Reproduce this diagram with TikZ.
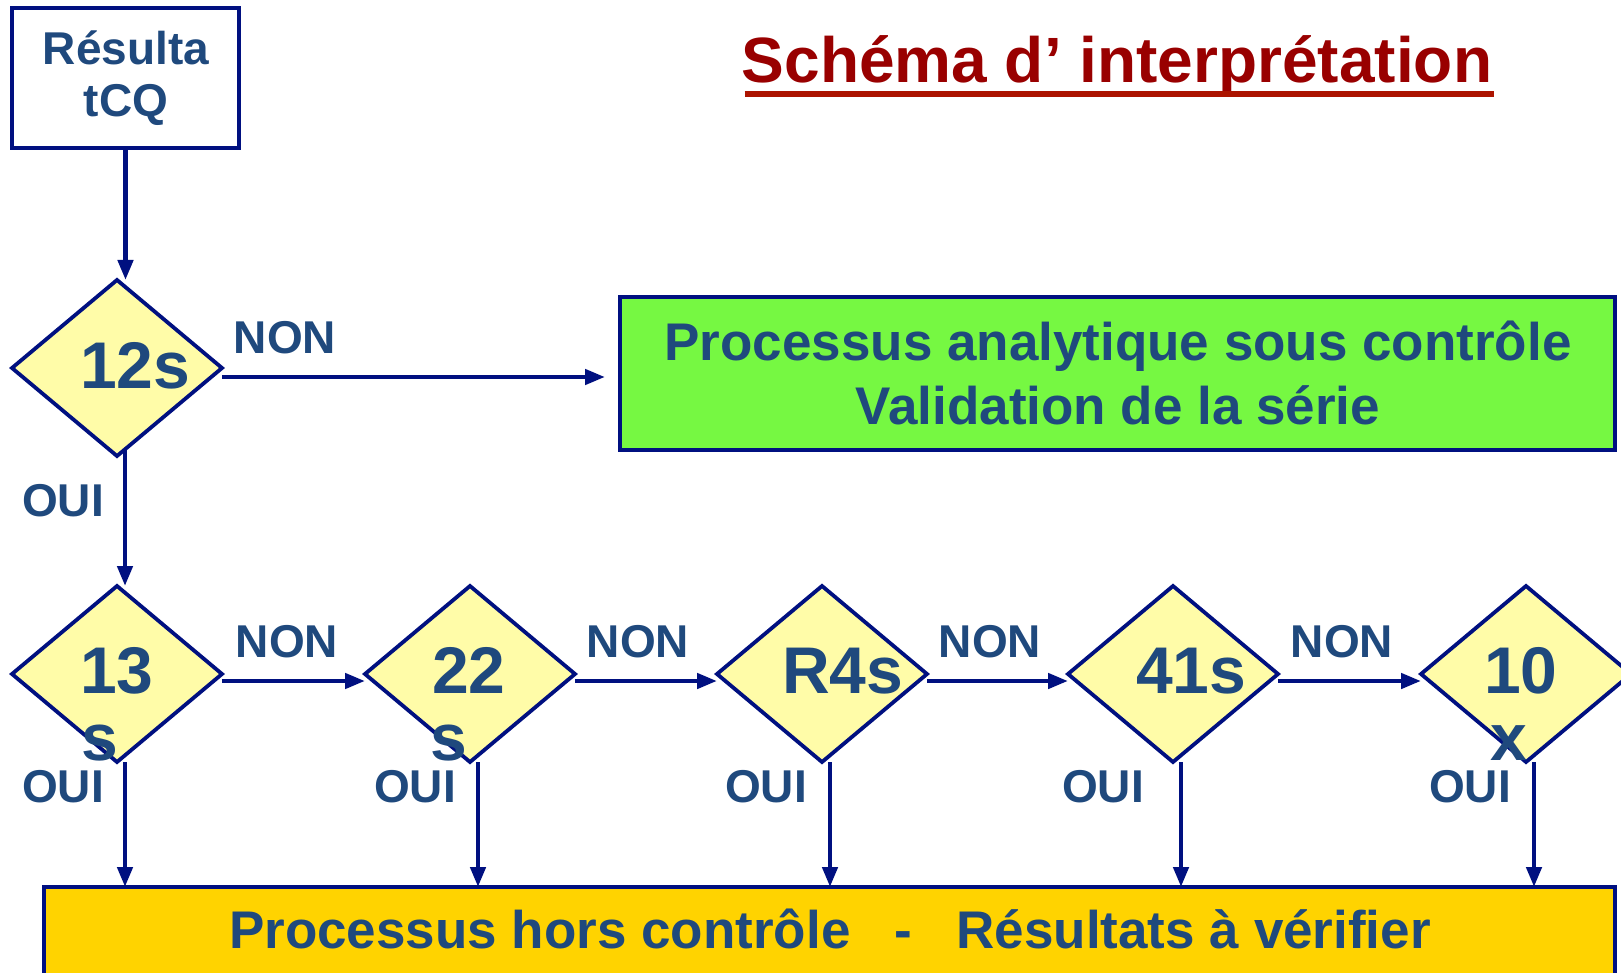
\documentclass[tikz,border=0pt]{standalone}
\usepackage{fontspec}
\setmainfont{Liberation Sans}
\usetikzlibrary{shapes.geometric,arrows.meta,calc}
\definecolor{txtblue}{RGB}{31,73,125}
\definecolor{navy}{RGB}{0,16,128}
\definecolor{yfill}{RGB}{255,252,168}
\definecolor{gfill}{RGB}{118,248,66}
\definecolor{gold}{RGB}{255,211,0}
\definecolor{titred}{RGB}{153,0,0}
\definecolor{ulred}{RGB}{172,20,0}
\begin{document}
\begin{tikzpicture}[x=1pt,y=-1pt,
  line/.style={draw=navy,line width=4.5pt},
  arr/.style={line,-{Triangle[length=20pt,width=15pt]}},
  dia/.style={shape=diamond,draw=navy,line width=3.8pt,fill=yfill,minimum width=210pt,minimum height=176pt,inner sep=0pt,outer sep=0pt},
  boxst/.style={draw=navy,inner sep=0pt,outer sep=0pt},
  lbl/.style={font=\fontsize{46}{52}\selectfont\bfseries,text=txtblue,inner sep=0pt,anchor=base},
  dnum/.style={font=\fontsize{66}{68}\selectfont\bfseries,text=txtblue,inner sep=0pt,anchor=base west},
  gtxt/.style={font=\fontsize{53}{60}\selectfont\bfseries,text=txtblue,inner sep=0pt,anchor=base},
]
\clip (0,0) rectangle (1621,973);
\fill[white] (0,0) rectangle (1621,973);

% title
\node[font=\fontsize{64}{70}\selectfont\bfseries,text=titred,anchor=base,inner sep=0pt] (title) at (1117,83) {Schéma d’ interprétation};
\draw[draw=ulred,line width=6pt] ($(title.base west)+(3,11)$) -- ($(title.base east)+(2,11)$);

% start box
\node[boxst,line width=4pt,fill=white,minimum width=227pt,minimum height=140pt] (start) at (125.5,78) {};
\node[lbl] (st1) at (126,65) {Résulta};
\node[lbl] (st2) at (126,117) {tCQ};

% green box
\node[boxst,line width=4.5pt,fill=gfill,minimum width=995pt,minimum height=153pt] (green) at (1117.5,373.5) {};
\node[gtxt] (g1) at (1118,360) {Processus analytique sous contrôle};
\node[gtxt] (g2) at (1118,424) {Validation de la série};

% gold box
\node[boxst,line width=4.5pt,fill=gold,minimum width=1571pt,minimum height=200pt,anchor=north west] (gold) at (44,887) {};
\node[font=\fontsize{53}{60}\selectfont\bfseries,text=txtblue,inner sep=0pt,anchor=base] (goldtxt) at (830,948) {Processus hors contrôle~~~-~~~Résultats à vérifier};

% diamonds
\node[dia] (d12) at (117,368) {};
\node[dia] (d13) at (117,674) {};
\node[dia] (d22) at (470,674) {};
\node[dia] (dR4) at (822,674) {};
\node[dia] (d41) at (1173,674) {};
\node[dia] (d10) at (1526,674) {};

% diamond texts
\node[dnum] (t12) at (80,388) {12s};
\node[dnum] (t13a) at (80,693) {13};
\node[dnum] (t13b) at (81,760) {s};
\node[dnum] (t22a) at (432,693) {22};
\node[dnum] (t22b) at (430,760) {s};
\node[dnum] (tR4) at (782,693) {R4s};
\node[dnum] (t41) at (1136,693) {41s};
\node[dnum] (t10a) at (1484,693) {10};
\node[dnum] (t10b) at (1490,760) {x};

% arrows
\draw[arr] (start.south) -- (start.south |- d12.north);
\draw[arr] ($(d12.east)+(0,9)$) -- ($(green.west |- d12.east)+(-15,9)$);
\draw[arr] ($(d12.south)+(8,-6)$) -- ($(d12.south |- d13.north)+(8,0)$);
\draw[arr] ($(d13.east)+(0,7)$) -- ($(d22.west)+(0,7)$);
\draw[arr] ($(d22.east)+(0,7)$) -- ($(dR4.west)+(0,7)$);
\draw[arr] ($(dR4.east)+(0,7)$) -- ($(d41.west)+(0,7)$);
\draw[arr] ($(d41.east)+(0,7)$) -- ($(d10.west)+(0,7)$);
\foreach \d in {d13,d22,dR4,d41,d10}{
  \draw[arr] ($(\d.south)+(8,0)$) -- ($(\d.south |- gold.north)+(8,0)$);
}

% labels
\node[lbl] (n0) at (285,353) {NON};
\node[lbl] (o0) at (63,516) {OUI};
\node[lbl] (n1) at (287,657) {NON};
\node[lbl] (n2) at (638,657) {NON};
\node[lbl] (n3) at (990,657) {NON};
\node[lbl] (n4) at (1342,657) {NON};
\node[lbl] (o1) at (63,802) {OUI};
\node[lbl] (o2) at (415,802) {OUI};
\node[lbl] (o3) at (766,802) {OUI};
\node[lbl] (o4) at (1103,802) {OUI};
\node[lbl] (o5) at (1470,802) {OUI};
\end{tikzpicture}
\end{document}
